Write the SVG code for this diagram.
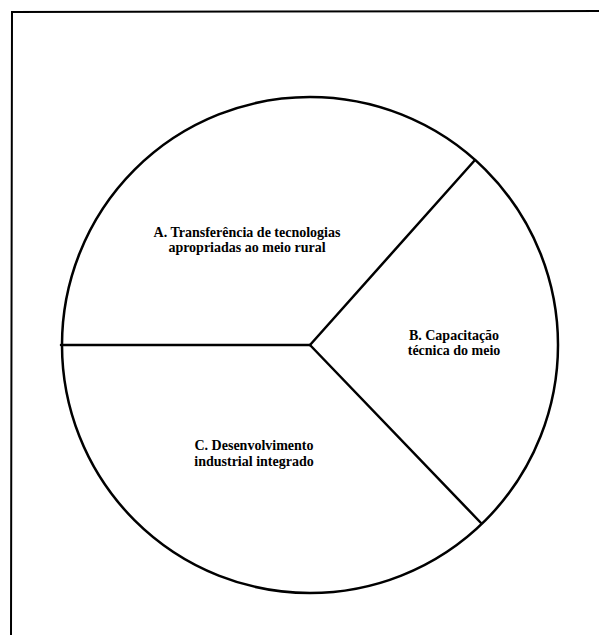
<svg xmlns="http://www.w3.org/2000/svg" width="599" height="635" viewBox="0 0 599 635">
<style>
.ln{stroke:#000;stroke-width:2.5;fill:none;stroke-linecap:round}
.fr{stroke:#000;stroke-width:2;fill:none}
.t{font-family:"Liberation Serif","Times New Roman",serif;font-size:14px;font-weight:bold;fill:#000;text-anchor:middle}
</style>
<rect width="599" height="635" fill="#fff"/>
<g id="frame"><path class="fr" d="M11,635 L12,12 L599,11"/></g>
<g id="circle"><circle class="ln" cx="310" cy="345" r="248"/></g>
<g id="connectors">
<line class="ln" x1="61" y1="345" x2="310" y2="345"/>
<line class="ln" x1="310" y1="345" x2="475" y2="160"/>
<line class="ln" x1="310" y1="345" x2="481" y2="523"/>
</g>
<g id="A"><text class="t" x="247" y="237">A. Transferência de tecnologias</text><text class="t" x="247" y="252">apropriadas ao meio rural</text></g>
<g id="B"><text class="t" x="454" y="340">B. Capacitação</text><text class="t" x="454" y="355">técnica do meio</text></g>
<g id="C"><text class="t" x="254" y="450">C. Desenvolvimento</text><text class="t" x="254" y="466">industrial integrado</text></g>
</svg>
